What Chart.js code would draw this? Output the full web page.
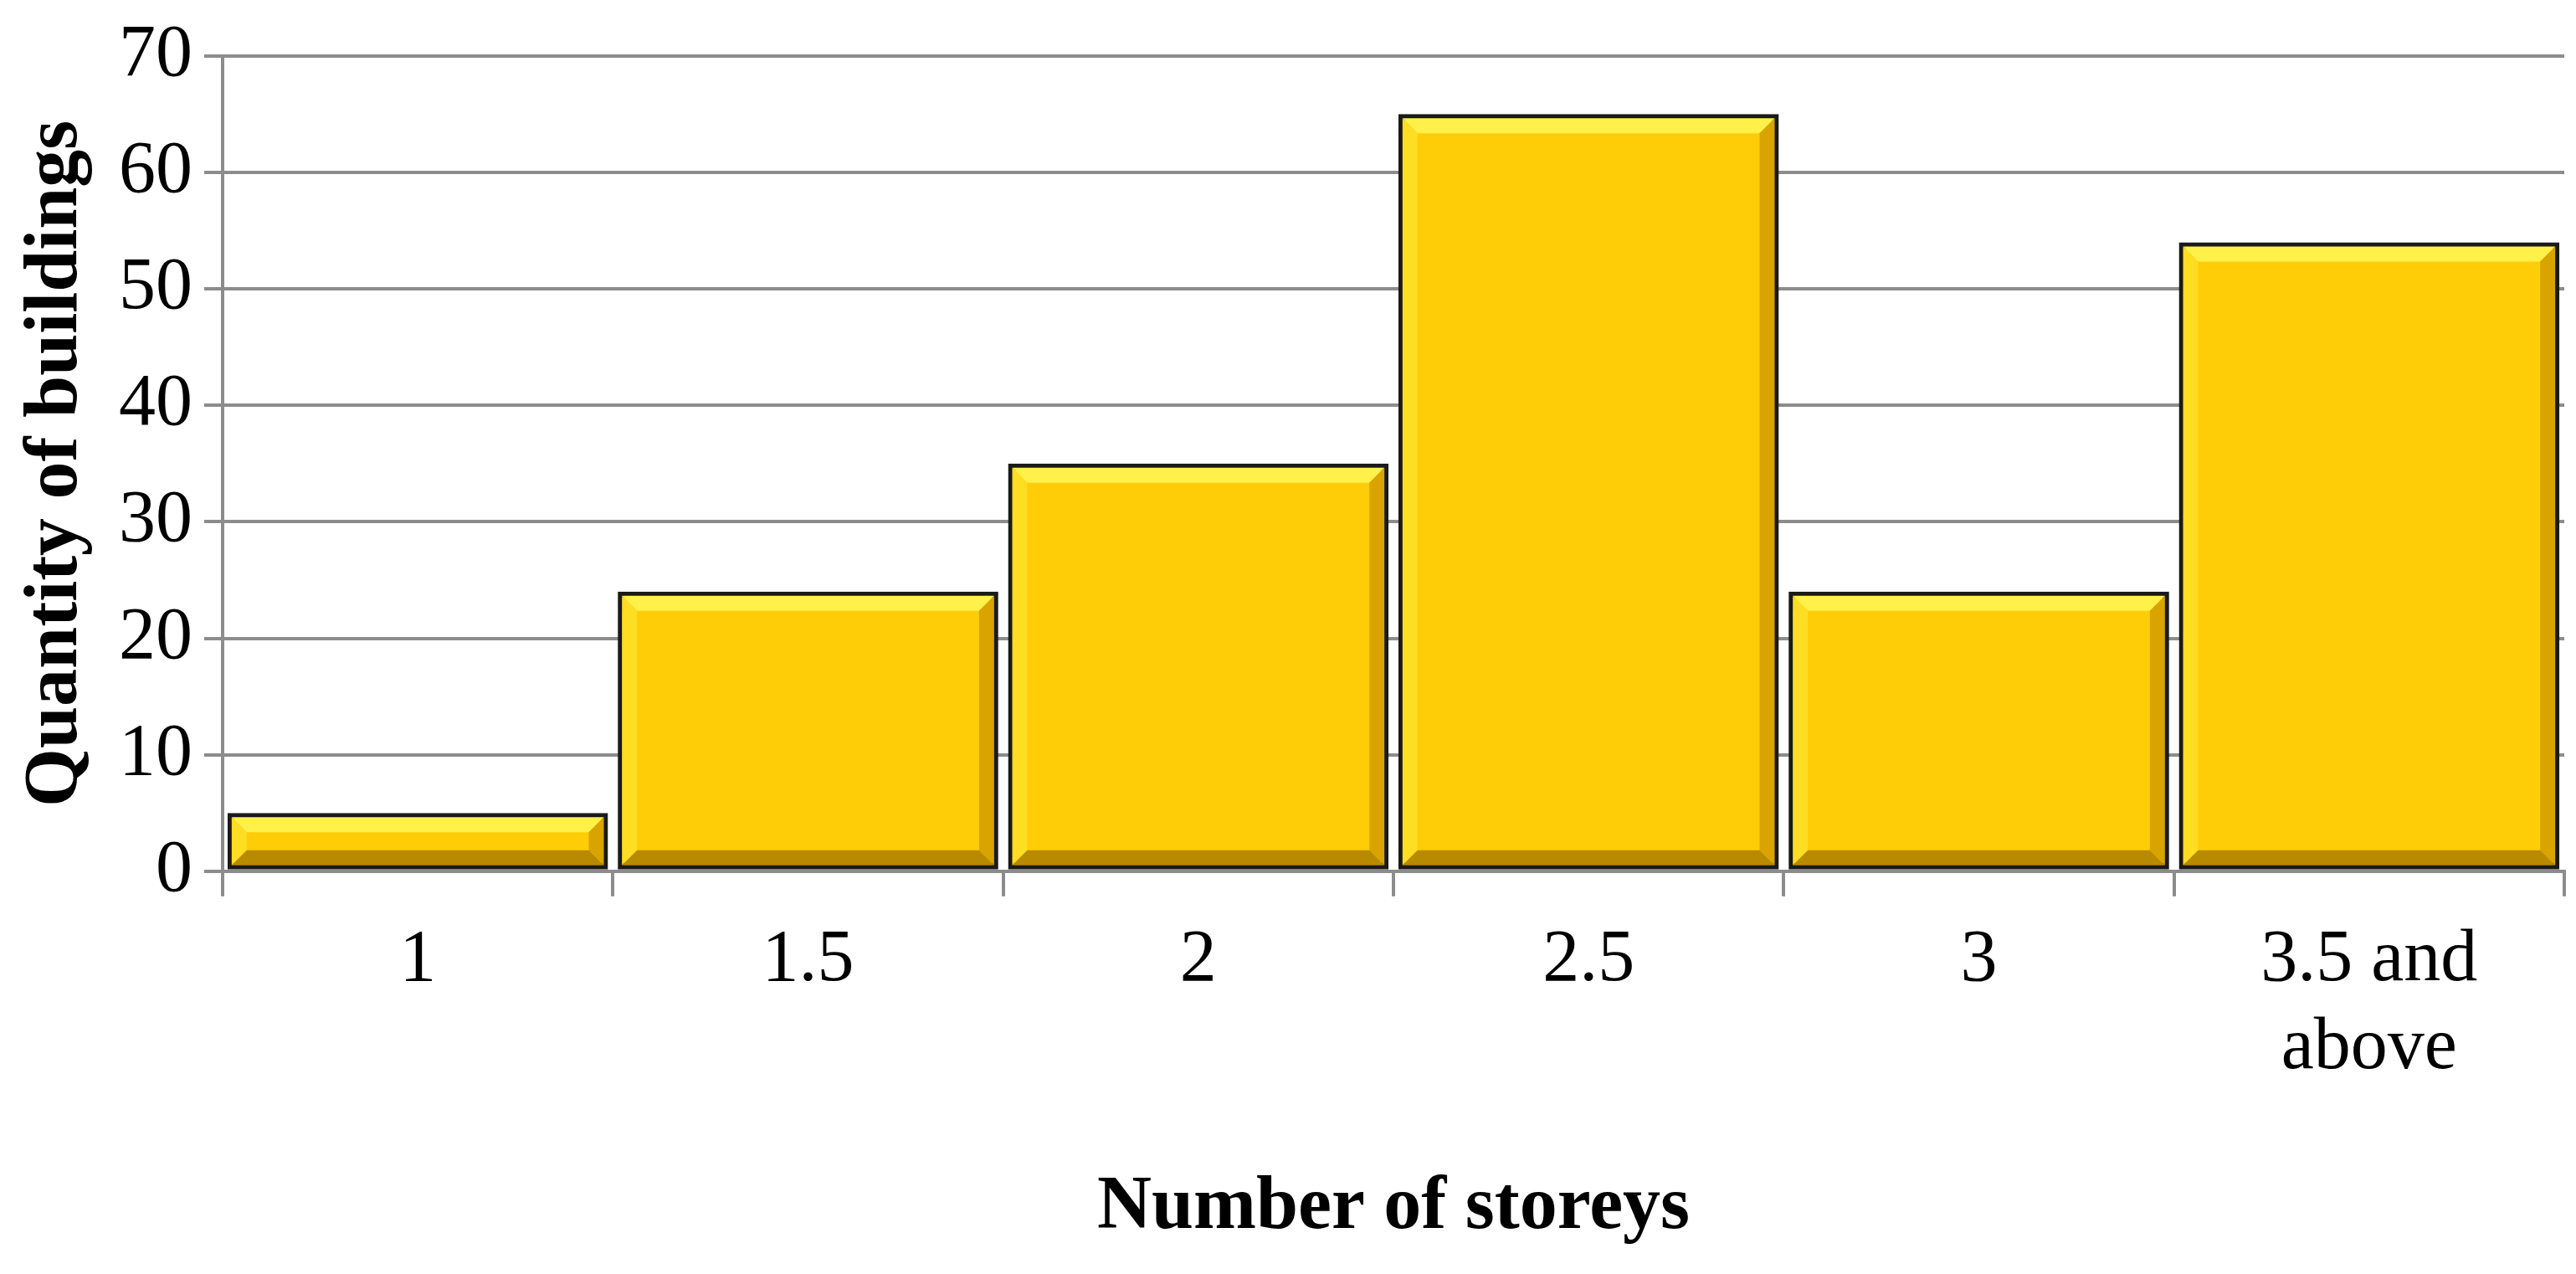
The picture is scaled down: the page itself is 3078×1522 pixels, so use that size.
<!DOCTYPE html>
<html lang="en">
<head>
<meta charset="UTF-8">
<title>Quantity of buildings by number of storeys</title>
<script src="https://cdn.jsdelivr.net/npm/chart.js"></script>
<style>
  body, html { margin: 0; padding: 0; width: 100%; height: 100%; overflow: hidden; background: #fff; }
  #wrap { width: 3078px; height: 1522px; }
</style>
</head>
<body>
<div id="wrap"><canvas id="storeyChart"></canvas></div>
<script>
const storeys = [["1"], ["1.5"], ["2"], ["2.5"], ["3"], ["3.5 and", "above"]];
const buildings = [5, 24, 35, 65, 24, 54];
const yTicks = [0, 10, 20, 30, 40, 50, 60, 70];

// bevel look on each bar, drawn from the bar element geometry
const bevel = {
  id: 'bevel',
  afterDatasetsDraw(chart) {
    const c = chart.ctx;
    chart.getDatasetMeta(0).data.forEach(bar => {
      const l = bar.x - bar.width / 2, r = bar.x + bar.width / 2;
      const t = bar.y, b = bar.base;
      const d = Math.min(18, (b - t) / 2 - 5);
      const i = 5;
      c.save();
      const face = (pts, col) => {
        c.beginPath(); c.moveTo(pts[0][0], pts[0][1]);
        pts.slice(1).forEach(p => c.lineTo(p[0], p[1]));
        c.closePath(); c.fillStyle = col; c.fill();
      };
      face([[l+i,t+i],[r-i,t+i],[r-i-d,t+i+d],[l+i+d,t+i+d]], '#FFF04A');
      face([[l+i,t+i],[l+i+d,t+i+d],[l+i+d,b-i-d],[l+i,b-i]], '#FFDD22');
      face([[r-i,t+i],[r-i,b-i],[r-i-d,b-i-d],[r-i-d,t+i+d]], '#D9A400');
      face([[l+i,b-i],[l+i+d,b-i-d],[r-i-d,b-i-d],[r-i,b-i]], '#B88A00');
      c.restore();
    });
  }
};

new Chart(document.getElementById('storeyChart'), {
  type: 'bar',
  data: {
    labels: storeys,
    datasets: [{
      data: buildings,
      backgroundColor: '#FFCC08',
      borderColor: '#1a1a1a',
      borderWidth: 8,
      borderSkipped: false,
      barPercentage: 1.0,
      categoryPercentage: 0.975
    }]
  },
  options: {
    responsive: true,
    maintainAspectRatio: false,
    animation: false,
    layout: { padding: { top: 30, right: 14, left: 10, bottom: 20 } },
    plugins: { legend: { display: false }, tooltip: { enabled: false } },
    scales: {
      x: {
        grid: { display: true, drawOnChartArea: false, offset: true, color: '#8c8c8c', lineWidth: 4, tickLength: 30 },
        border: { color: '#8c8c8c', width: 4 },
        ticks: { color: '#000', font: { family: 'Liberation Serif', size: 88 }, padding: 24, maxRotation: 0 },
        title: { display: true, text: 'Number of storeys', color: '#000', font: { family: 'Liberation Serif', size: 90, weight: 'bold' }, padding: { top: 60 } }
      },
      y: {
        min: 0, max: 70,
        afterBuildTicks: axis => { axis.ticks = yTicks.map(v => ({ value: v })); },
        grid: { color: '#8c8c8c', lineWidth: 4, tickLength: 22 },
        border: { color: '#8c8c8c', width: 4 },
        ticks: { color: '#000', font: { family: 'Liberation Serif', size: 88 }, padding: 14 },
        title: { display: true, text: 'Quantity of buildings', color: '#000', font: { family: 'Liberation Serif', size: 90, weight: 'bold' }, padding: { bottom: 6 } }
      }
    }
  },
  plugins: [bevel]
});
</script>
</body>
</html>
